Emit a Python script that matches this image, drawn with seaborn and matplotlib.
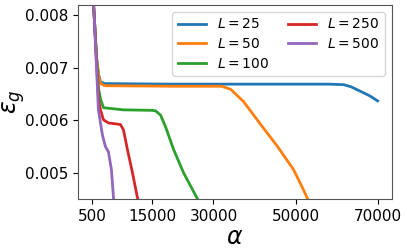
import pandas as pd
import matplotlib
matplotlib.use('Agg')
import matplotlib.pyplot as plt
import seaborn as sns

# values
alpha_25 = [500, 1000, 1500, 2000, 2500, 3500, 20000, 40000, 58000,
            61700, 63500, 65900, 68000, 70000]
eps_25 = [0.0086, 0.0079, 0.0072, 0.00688, 0.00673, 0.00670, 0.00669,
          0.00669, 0.00669, 0.00668, 0.00664, 0.00655, 0.00647, 0.00637]

alpha_50 = [500, 1000, 1500, 2000, 2500, 3500, 20000, 32000, 34200,
            37300, 41500, 45600, 49500, 51700, 54000]
eps_50 = [0.0086, 0.0079, 0.0072, 0.00685, 0.00670, 0.00666, 0.00665,
          0.00665, 0.00659, 0.00636, 0.00592, 0.00550, 0.00506, 0.00471,
          0.00432]

alpha_100 = [500, 1000, 1500, 2000, 2500, 3200, 8000, 15000, 15900,
             17100, 18300, 20300, 22700, 26100, 27500]
eps_100 = [0.0086, 0.0079, 0.0072, 0.0066, 0.00640, 0.00624, 0.00620,
           0.00619, 0.00618, 0.00610, 0.00588, 0.00544, 0.00500, 0.00450,
           0.00428]

alpha_250 = [500, 1000, 1500, 2000, 2450, 3200, 4400, 7330, 8060,
             9040, 10260, 11480, 12200]
eps_250 = [0.0086, 0.0079, 0.0071, 0.0064, 0.00620, 0.00601, 0.00595,
           0.00592, 0.00582, 0.00544, 0.00500, 0.00452, 0.00425]

alpha_500 = [500, 1000, 1450, 1960, 2940, 3670, 4400, 5130, 5620, 6000]
eps_500 = [0.0086, 0.0079, 0.0071, 0.0062, 0.00572, 0.00550, 0.00540,
           0.00506, 0.00454, 0.00420]

sizes = ['25', '50', '100', '250', '500']
xticks = [500, 15000, 30000, 50000, 70000]


def build_frame():
    alphas = [alpha_25, alpha_50, alpha_100, alpha_250, alpha_500]
    epss = [eps_25, eps_50, eps_100, eps_250, eps_500]
    rows = []
    for size, a, e in zip(sizes, alphas, epss):
        for x, y in zip(a, e):
            rows.append({'alpha': x, 'eps': y, 'L': f'$L = {size}$'})
    return pd.DataFrame(rows)


def main():
    df = build_frame()
    fig, ax = plt.subplots(figsize=(4.07, 2.49), dpi=100)
    plt.subplots_adjust(left=0.192, right=0.963, top=0.98, bottom=0.201)

    order = [f'$L = {s}$' for s in sizes]
    sns.lineplot(data=df, x='alpha', y='eps', hue='L', hue_order=order,
                 palette=sns.color_palette('tab10', 5), linewidth=2,
                 ax=ax)

    ax.set_ylim(0.0045, 0.0082)
    ax.set_xticks(xticks)
    ax.set_yticks([0.005, 0.006, 0.007, 0.008])
    ax.tick_params(labelsize=11)
    for s in ax.spines.values():
        s.set_color('#555555')
    ax.set_xlabel(r'$\alpha$', fontsize=17, labelpad=1)
    ax.set_ylabel(r'$\varepsilon_g$', fontsize=17)
    ax.yaxis.set_label_coords(-0.163, 0.5)

    handles, labels = ax.get_legend_handles_labels()
    ax.legend(handles, labels, ncol=2, fontsize=10, loc='upper right',
              columnspacing=1.4, labelspacing=0.4)

    plt.savefig('out.png', dpi=100)


if __name__ == '__main__':
    main()
